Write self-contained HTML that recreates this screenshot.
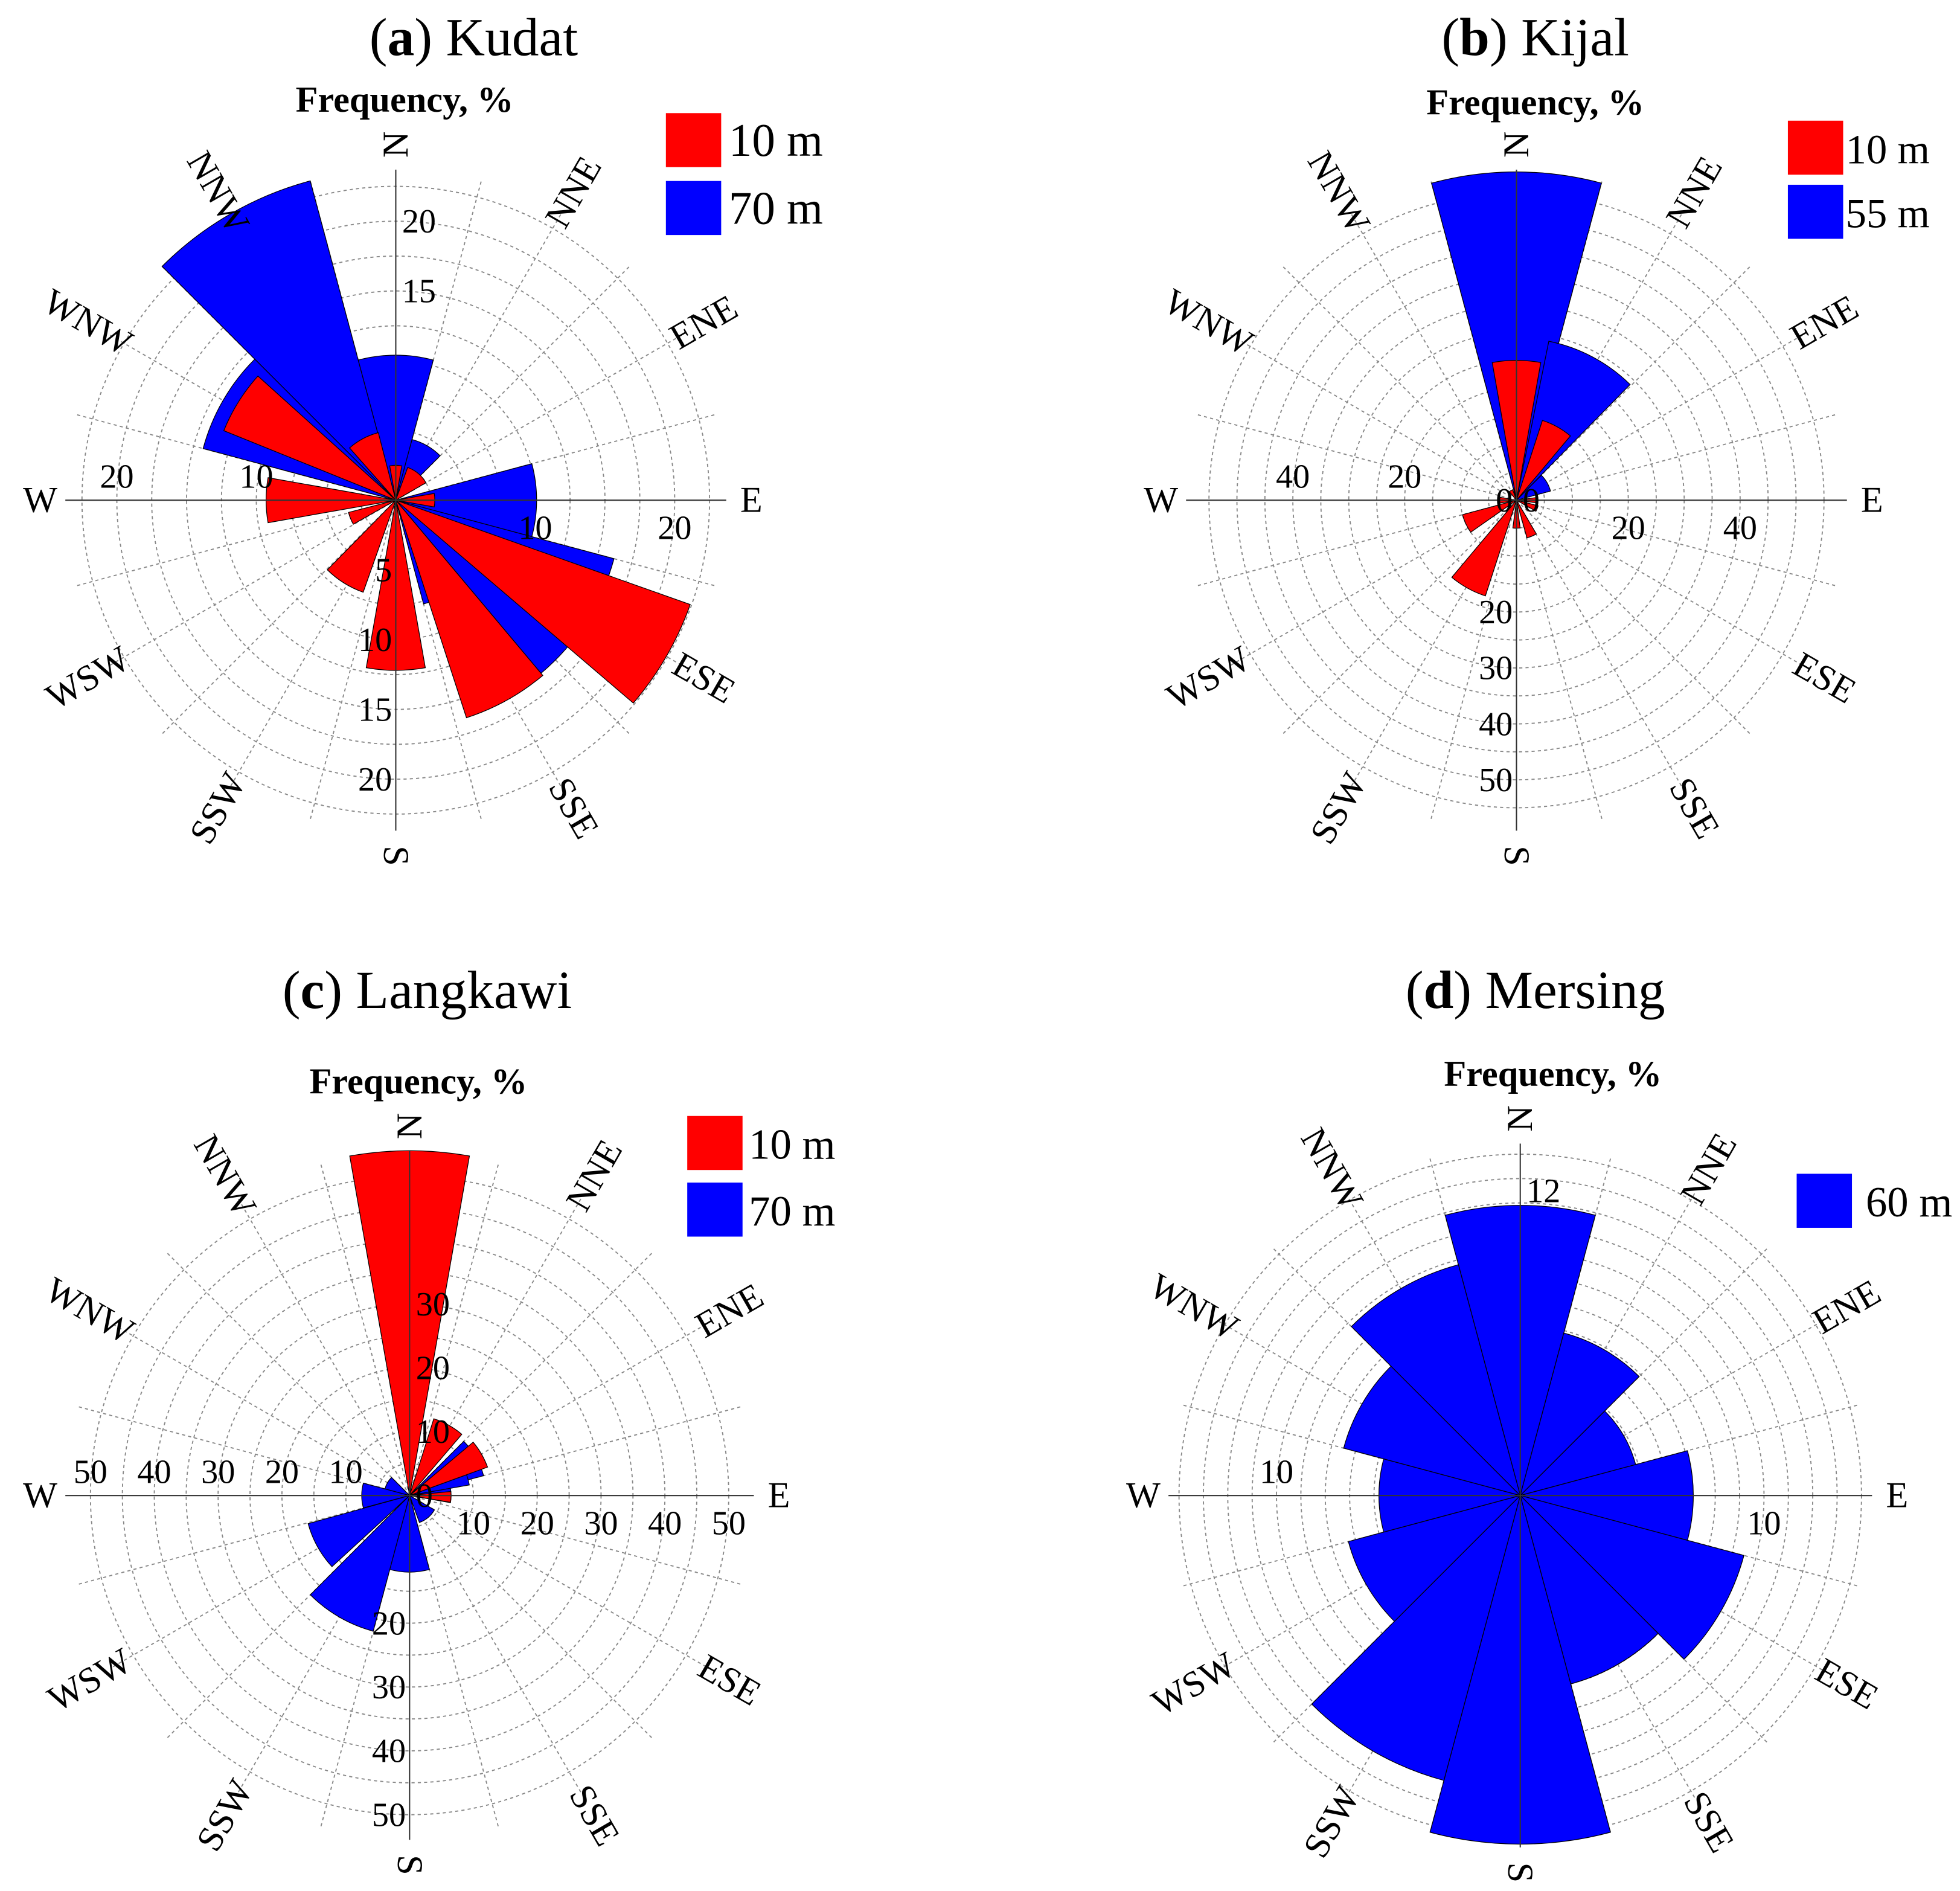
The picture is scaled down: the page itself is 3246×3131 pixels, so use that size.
<!DOCTYPE html>
<html><head><meta charset="utf-8">
<style>html,body{margin:0;padding:0;background:#fff}svg{display:block}</style></head>
<body>
<svg id="fig" xmlns="http://www.w3.org/2000/svg" width="3246" height="3131" viewBox="0 0 1560 1504.7" font-family="Liberation Serif, serif"></svg>
<script>
// ---- data ----
const dirLabels = ["N","NNE","ENE","E","ESE","SSE","S","SSW","WSW","W","WNW","NNW"];
// Kudat
const kudatBlueDir = [330, 0, 30, 90, 122.5, 160, 300];
const kudatBlueWidth = [30, 30, 30, 30, 35, 10, 30];
const kudatBlueVal = [23.7, 10.4, 4.5, 10.1, 16.2, 7.7, 14.3];
const kudatRedDir = [120, 151, 180, 212, 248, 270, 302, 332, 0, 40, 90];
const kudatRedWidth = [21, 22, 20, 25, 15, 20, 20, 27, 20, 40, 20];
const kudatRedVal = [22.4, 16.4, 12.2, 7, 3.5, 9.3, 13.3, 5, 2.5, 2.5, 2.8];
// Kijal
const kijalBlueDir = [0, 28, 60];
const kijalBlueWidth = [30, 33, 30];
const kijalBlueVal = [58.7, 29, 6.3];
const kijalRedDir = [0, 29, 90, 112, 157, 180, 209, 245, 270, 330];
const kijalRedWidth = [20, 22, 15, 15, 15, 15, 22, 20, 20, 20];
const kijalRedVal = [25, 15, 3.5, 4, 7, 5, 18, 10, 3, 2];
// Langkawi
const langBlueDir = [60, 75, 90, 140, 180, 210, 241, 270, 300];
const langBlueWidth = [30, 10, 20, 40, 30, 30, 27, 30, 30];
const langBlueVal = [12, 9.5, 6.5, 4.5, 12, 22, 16.5, 7.5, 4];
const langRedDir = [0, 29, 60, 92];
const langRedWidth = [20, 23, 20, 15];
const langRedVal = [54, 12.6, 13, 6.5];
// Mersing
const mersBlueDir = [0, 30, 60, 90, 120, 150, 180, 210, 240, 270, 300, 330];
const mersBlueWidth = [30, 30, 30, 30, 30, 30, 30, 30, 30, 30, 30, 30];
const mersBlueVal = [11.9, 6.9, 4.9, 7.1, 9.5, 8.0, 14.3, 12.1, 7.3, 5.8, 7.5, 9.8];
// tick labels
const kudatTicksN = [15, 20], kudatTicksS = [5, 10, 15, 20], kudatTicksE = [10, 20], kudatTicksW = [10, 20];
const kijalTicksN = [0], kijalTicksS = [0, 20, 30, 40, 50], kijalTicksE = [20, 40], kijalTicksW = [20, 40];
const langTicksN = [0, 10, 20, 30], langTicksS = [20, 30, 40, 50], langTicksE = [10, 20, 30, 40, 50], langTicksW = [10, 20, 30, 40, 50];
const mersTicksN = [12.5], mersTicksS = [], mersTicksE = [10], mersTicksW = [10];

const NS = "http://www.w3.org/2000/svg";
const svg = document.getElementById('fig');
function mk(tag, attrs, parent) {
  const e = document.createElementNS(NS, tag);
  for (const k in attrs) e.setAttribute(k, attrs[k]);
  (parent || svg).appendChild(e);
  return e;
}
function pt(cx, cy, r, a) { const t = a * Math.PI / 180; return [cx + r * Math.sin(t), cy - r * Math.cos(t)]; }

function panel(p) {
  const g = mk('g', {});
  
  
  const k = p.k, cx = p.cx, cy = p.cy, L = p.axisLen;
  const maxR = L / k;
  for (let v = p.step; v <= maxR + 0.01; v += p.step) {
    const c = mk('circle', {cx: cx, cy: cy, r: v * k, fill: 'none', stroke: '#888', 'stroke-width': 0.9, 'stroke-dasharray': '2.5,2.5'}, g);
    
    
  }
  for (let a = 0; a < 360; a += 15) {
    if (a % 90 === 0) continue;
    const [x, y] = pt(cx, cy, L, a);
    const s = mk('line', {x1: cx, y1: cy, x2: x, y2: y, stroke: '#888', 'stroke-width': 0.9, 'stroke-dasharray': '2.5,2.5'}, g);
    
    
  }
  p.series.forEach(se => {
    se.dir.forEach((d, i) => {
      const r = se.val[i] * k, w = se.width[i];
      const a0 = d - w / 2, a1 = d + w / 2;
      const [x0, y0] = pt(cx, cy, r, a0), [x1, y1] = pt(cx, cy, r, a1);
      const path = mk('path', {d: `M${cx},${cy}L${x0},${y0}A${r},${r} 0 0 1 ${x1},${y1}Z`, fill: se.color, stroke: '#000', 'stroke-width': 0.6}, g);
      
      
    });
  });
  const ax1 = mk('line', {x1: cx - L, y1: cy, x2: cx + L, y2: cy, stroke: '#333', 'stroke-width': 1}, g);
  
  
  const ax2 = mk('line', {x1: cx, y1: cy - L, x2: cx, y2: cy + L, stroke: '#333', 'stroke-width': 1}, g);
  
  
  const tl = (txt, x, y, anchor) => {
    const t = mk('text', {x: x, y: y, 'font-size': 27, 'text-anchor': anchor}, g);
    t.textContent = txt;
    
    
  };
  p.tN.forEach(v => tl(Math.floor(v), cx + 5, cy - v * k + 9, 'start'));
  p.tS.forEach(v => tl(v, cx - 3, cy + v * k + 9, 'end'));
  p.tE.forEach(v => tl(v, cx + v * k, cy + 31, 'middle'));
  p.tW.forEach(v => tl(v, cx - v * k, cy - 10, 'middle'));
  dirLabels.forEach((lab, i) => {
    const a = i * 30;
    const [x, y] = pt(cx, cy, L + p.labOff, a);
    let rot = 0;
    if (a === 270) rot = 0; else if (a > 180 || a === 0) rot = (a === 0 ? -90 : a - 270); else rot = a - 90;
    const t = mk('text', {x: x, y: y, 'font-size': 29, 'text-anchor': 'middle', 'dominant-baseline': 'central', transform: `rotate(${rot} ${x} ${y})`}, g);
    t.textContent = lab;
    
    
  });
  const ti = mk('text', {x: p.title[0], y: p.title[1], 'font-size': 43, 'text-anchor': 'middle'}, g);
  ti.innerHTML = '(<tspan font-weight="bold">' + p.letter + '</tspan>) ' + p.name;
  
  
  const fq = mk('text', {x: p.freq[0], y: p.freq[1], 'font-size': 29, 'font-weight': 'bold', 'text-anchor': 'middle'}, g);
  fq.textContent = 'Frequency, %';
  
  
  p.legend.forEach((lg, i) => {
    const y = p.legY + i * p.legDy;
    const r = mk('rect', {x: p.legX, y: y, width: 44, height: 43, fill: lg[1]}, g);
    
    
    const t = mk('text', {x: p.legX + p.legGap, y: y + 34, 'font-size': p.legFont}, g);
    t.textContent = lg[0];
    
    
  });
}

panel({id: 'kudat', letter: 'a', name: 'Kudat', cx: 315, cy: 398, k: 11.1, axisLen: 263, step: 2.5, labOff: 20,
  series: [{name: 'blue', color: '#0000ff', dir: kudatBlueDir, width: kudatBlueWidth, val: kudatBlueVal},
           {name: 'red', color: '#ff0000', dir: kudatRedDir, width: kudatRedWidth, val: kudatRedVal}],
  tN: kudatTicksN, tS: kudatTicksS, tE: kudatTicksE, tW: kudatTicksW,
  title: [377, 44], freq: [322, 89], legX: 530, legY: 90, legDy: 54, legGap: 50, legFont: 37, legend: [['10 m', '#ff0000'], ['70 m', '#0000ff']]});
panel({id: 'kijal', letter: 'b', name: 'Kijal', cx: 1207, cy: 398, k: 4.45, axisLen: 263, step: 5, labOff: 20,
  series: [{name: 'blue', color: '#0000ff', dir: kijalBlueDir, width: kijalBlueWidth, val: kijalBlueVal},
           {name: 'red', color: '#ff0000', dir: kijalRedDir, width: kijalRedWidth, val: kijalRedVal}],
  tN: kijalTicksN, tS: kijalTicksS, tE: kijalTicksE, tW: kijalTicksW,
  title: [1222, 44], freq: [1222, 91], legX: 1423, legY: 96, legDy: 51, legGap: 46, legFont: 33, legend: [['10 m', '#ff0000'], ['55 m', '#0000ff']]});
panel({id: 'langkawi', letter: 'c', name: 'Langkawi', cx: 326, cy: 1190, k: 5.08, axisLen: 274, step: 5, labOff: 20,
  series: [{name: 'blue', color: '#0000ff', dir: langBlueDir, width: langBlueWidth, val: langBlueVal},
           {name: 'red', color: '#ff0000', dir: langRedDir, width: langRedWidth, val: langRedVal}],
  tN: langTicksN, tS: langTicksS, tE: langTicksE, tW: langTicksW,
  title: [340, 802], freq: [333, 870], legX: 547, legY: 888, legDy: 53, legGap: 49, legFont: 34, legend: [['10 m', '#ff0000'], ['70 m', '#0000ff']]});
panel({id: 'mersing', letter: 'd', name: 'Mersing', cx: 1210, cy: 1190, k: 19.4, axisLen: 280, step: 1, labOff: 20,
  series: [{name: 'blue', color: '#0000ff', dir: mersBlueDir, width: mersBlueWidth, val: mersBlueVal}],
  tN: mersTicksN, tS: mersTicksS, tE: mersTicksE, tW: mersTicksW,
  title: [1222, 802], freq: [1236, 864], legX: 1430, legY: 934, legDy: 53, legGap: 55, legFont: 34, legend: [['60 m', '#0000ff']]});
</script>
</body></html>
